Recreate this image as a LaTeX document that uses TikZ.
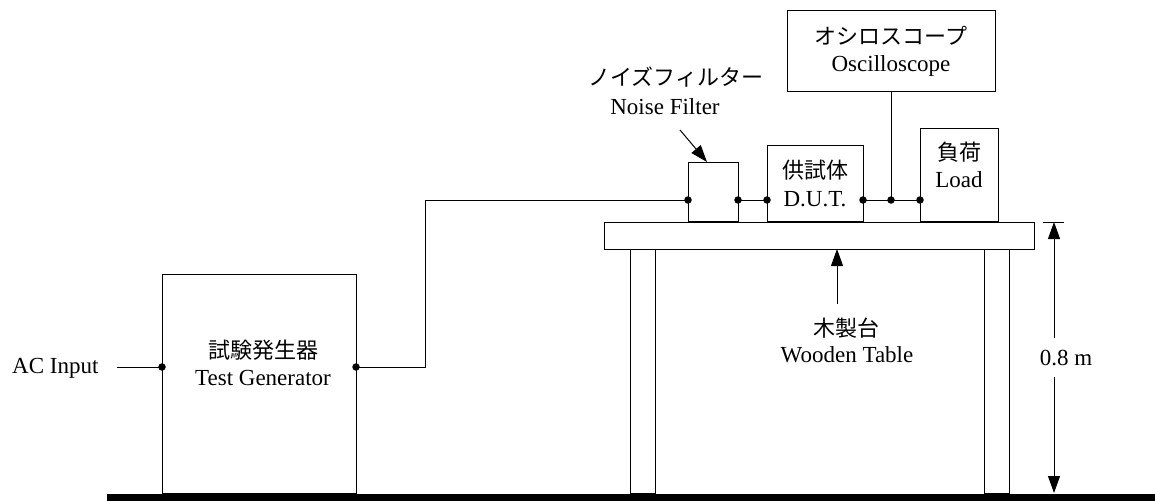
\documentclass[tikz,border=0pt]{standalone}
\usepackage{fontspec}
\setmainfont{Liberation Serif}
\newfontfamily\jp{Noto Sans CJK JP}
\usetikzlibrary{arrows.meta}
\begin{document}
\begin{tikzpicture}[x=1pt,y=-1pt,line width=1pt,
  box/.style={draw,line width=1pt,inner sep=0pt,outer sep=0pt,anchor=north west},
  lbl/.style={font=\fontsize{23}{28}\selectfont,inner sep=0pt},
  jlbl/.style={font=\fontsize{22}{28}\selectfont\jp,inner sep=0pt},
  dotn/.style={circle,fill,inner sep=0pt,minimum size=7.5pt},
  tip/.style={-{Triangle[length=17pt,width=12pt]}}]
\useasboundingbox (0,0) rectangle (1155,500);
% ground
\node[fill,anchor=north west,inner sep=0pt,minimum width=1049pt,minimum height=7pt] (ground) at (106,493) {};
% test generator
\node[box,minimum width=194pt,minimum height=219pt] (tg) at (162,274) {};
\node[jlbl] (tgj) at (263,350) {試験発生器};
\node[lbl] (tge) at (263,378) {Test Generator};
% AC input
\node[lbl,anchor=east] (ac) at (99,368) {AC Input};
\coordinate (acS) at (117,367);
\coordinate (tgL) at (162,367);
\coordinate (tgR) at (356,367);
\draw (acS) -- (tgL);
% table
\node[box,minimum width=430pt,minimum height=27pt] (top) at (604,222) {};
\node[box,minimum width=25pt,minimum height=244pt] (legL) at (630,249) {};
\node[box,minimum width=25pt,minimum height=244pt] (legR) at (984,249) {};
% devices
\node[box,minimum width=50pt,minimum height=59pt] (nf) at (688,162) {};
\node[box,minimum width=96pt,minimum height=76pt] (dut) at (767,145) {};
\node[box,minimum width=78pt,minimum height=93pt] (load) at (920,128) {};
\node[box,minimum width=208pt,minimum height=81pt] (osc) at (787,11) {};
% labels
\node[jlbl] (oscj) at (891,36) {オシロスコープ};
\node[lbl] (osce) at (891,66) {Oscilloscope};
\node[jlbl] (dutj) at (815,170) {供試体};
\node[lbl] (dute) at (815,199) {D.U.T.};
\node[jlbl] (loadj) at (959,152) {負荷};
\node[lbl] (loade) at (959,180) {Load};
\node[jlbl] (nfj) at (676,77) {ノイズフィルター};
\node[lbl] (nfe) at (665,107) {Noise Filter};
\node[jlbl] (wtj) at (846,328) {木製台};
\node[lbl] (wte) at (847,355) {Wooden Table};
\node[lbl] (dim) at (1066,358) {0.8 m};
% wiring points
\coordinate (nfL) at (688,200);
\coordinate (nfR) at (738,200);
\coordinate (dutL) at (767,200);
\coordinate (dutR) at (863,200);
\coordinate (oscJ) at (891,200);
\coordinate (loadL) at (920,200);
\coordinate (bend) at (425,200);
\draw (tgR) -| (bend) -- (nfL);
\draw (nfR) -- (dutL);
\draw (dutR) -- (loadL);
\draw (osc.south) -- (oscJ);
\foreach \p in {tgL,tgR,nfL,nfR,dutL,dutR,oscJ,loadL}
  \node[dotn] (d\p) at (\p) {};
% noise filter arrow
\coordinate (nfA) at (680,130);
\coordinate (nfB) at (707,162);
\draw[tip] (nfA) -- (nfB);
% wooden table arrow
\coordinate (wtA) at (837,304);
\coordinate (wtB) at (837,249);
\draw[tip] (wtA) -- (wtB);
% dimension
\coordinate (dT) at (1054,222);
\coordinate (dB) at (1054,493);
\coordinate (dA1) at (1054,338);
\coordinate (dA2) at (1054,377);
\coordinate (tk1) at (1043,222);
\coordinate (tk2) at (1064,222);
\draw (tk1) -- (tk2);
\draw[tip] (dA1) -- (dT);
\draw[tip] (dA2) -- (dB);
\end{tikzpicture}
\end{document}
